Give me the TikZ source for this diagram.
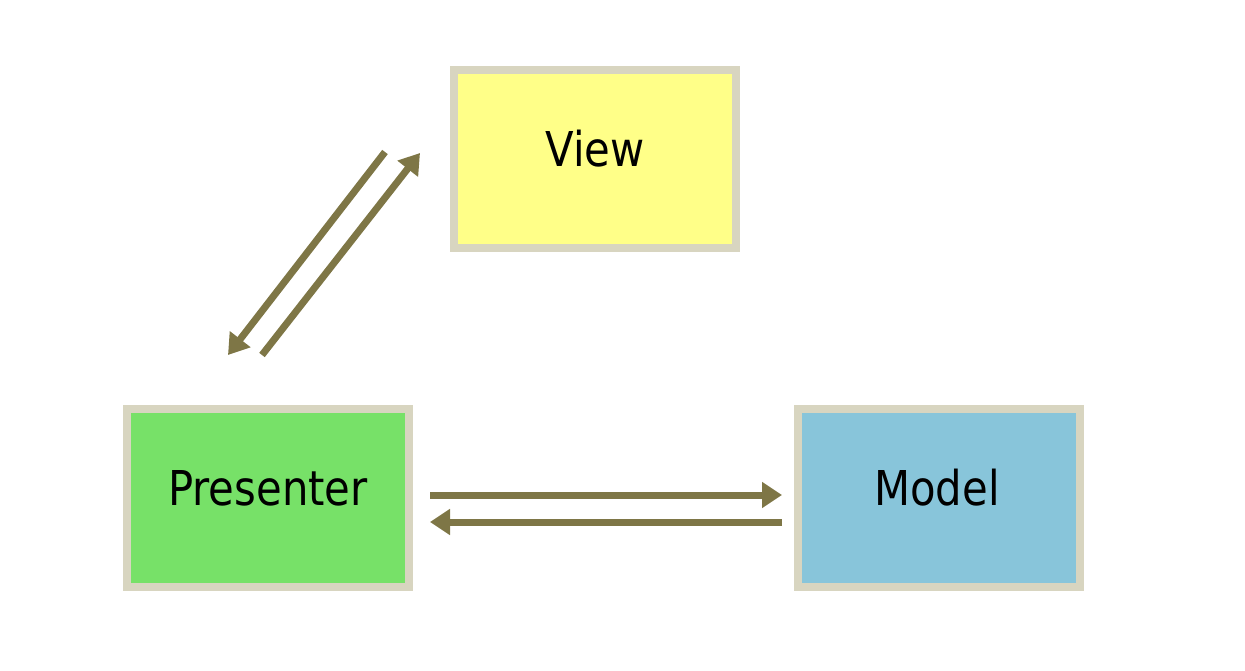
\documentclass[tikz,border=0pt]{standalone}
\usepackage{fontspec}
\setmainfont{DejaVu Sans}[FakeStretch=0.87]
\usetikzlibrary{arrows.meta}
\definecolor{rim}{HTML}{D8D5C0}
\definecolor{viewfill}{HTML}{FFFF88}
\definecolor{presfill}{HTML}{77E168}
\definecolor{modelfill}{HTML}{88C5DA}
\definecolor{arrowc}{HTML}{7E7646}
\tikzset{
  box/.style={draw=rim, line width=8pt, minimum width=282pt, minimum height=178pt, inner sep=0pt},
  lbl/.style={anchor=base, font=\fontsize{48}{52}\selectfont, inner sep=0pt},
  conn/.style={draw=arrowc, line width=7pt, -{Triangle[length=20pt,width=25pt]}}
}
\begin{document}
\begin{tikzpicture}[x=1pt,y=-1pt]
\useasboundingbox (0,0) rectangle (1245,670);
\node[box, fill=viewfill] (view) at (595,159) {};
\node[box, fill=presfill] (pres) at (267.5,498) {};
\node[box, fill=modelfill] (model) at (938.5,498) {};
\node[lbl] (vt) at (595,166) {View};
\node[lbl] (pt) at (268,505) {Presenter};
\node[lbl] (mt) at (937,505) {Model};
\coordinate (d1s) at (385,152);
\coordinate (d1e) at (228,355);
\coordinate (d2s) at (262,355);
\coordinate (d2e) at (420,153);
\coordinate (h1s) at (430,495);
\coordinate (h1e) at (782,495);
\coordinate (h2s) at (782,522);
\coordinate (h2e) at (430,522);
\draw[conn] (d1s) -- (d1e);
\draw[conn] (d2s) -- (d2e);
\draw[conn] (h1s) -- (h1e);
\draw[conn] (h2s) -- (h2e);
\end{tikzpicture}
\end{document}
